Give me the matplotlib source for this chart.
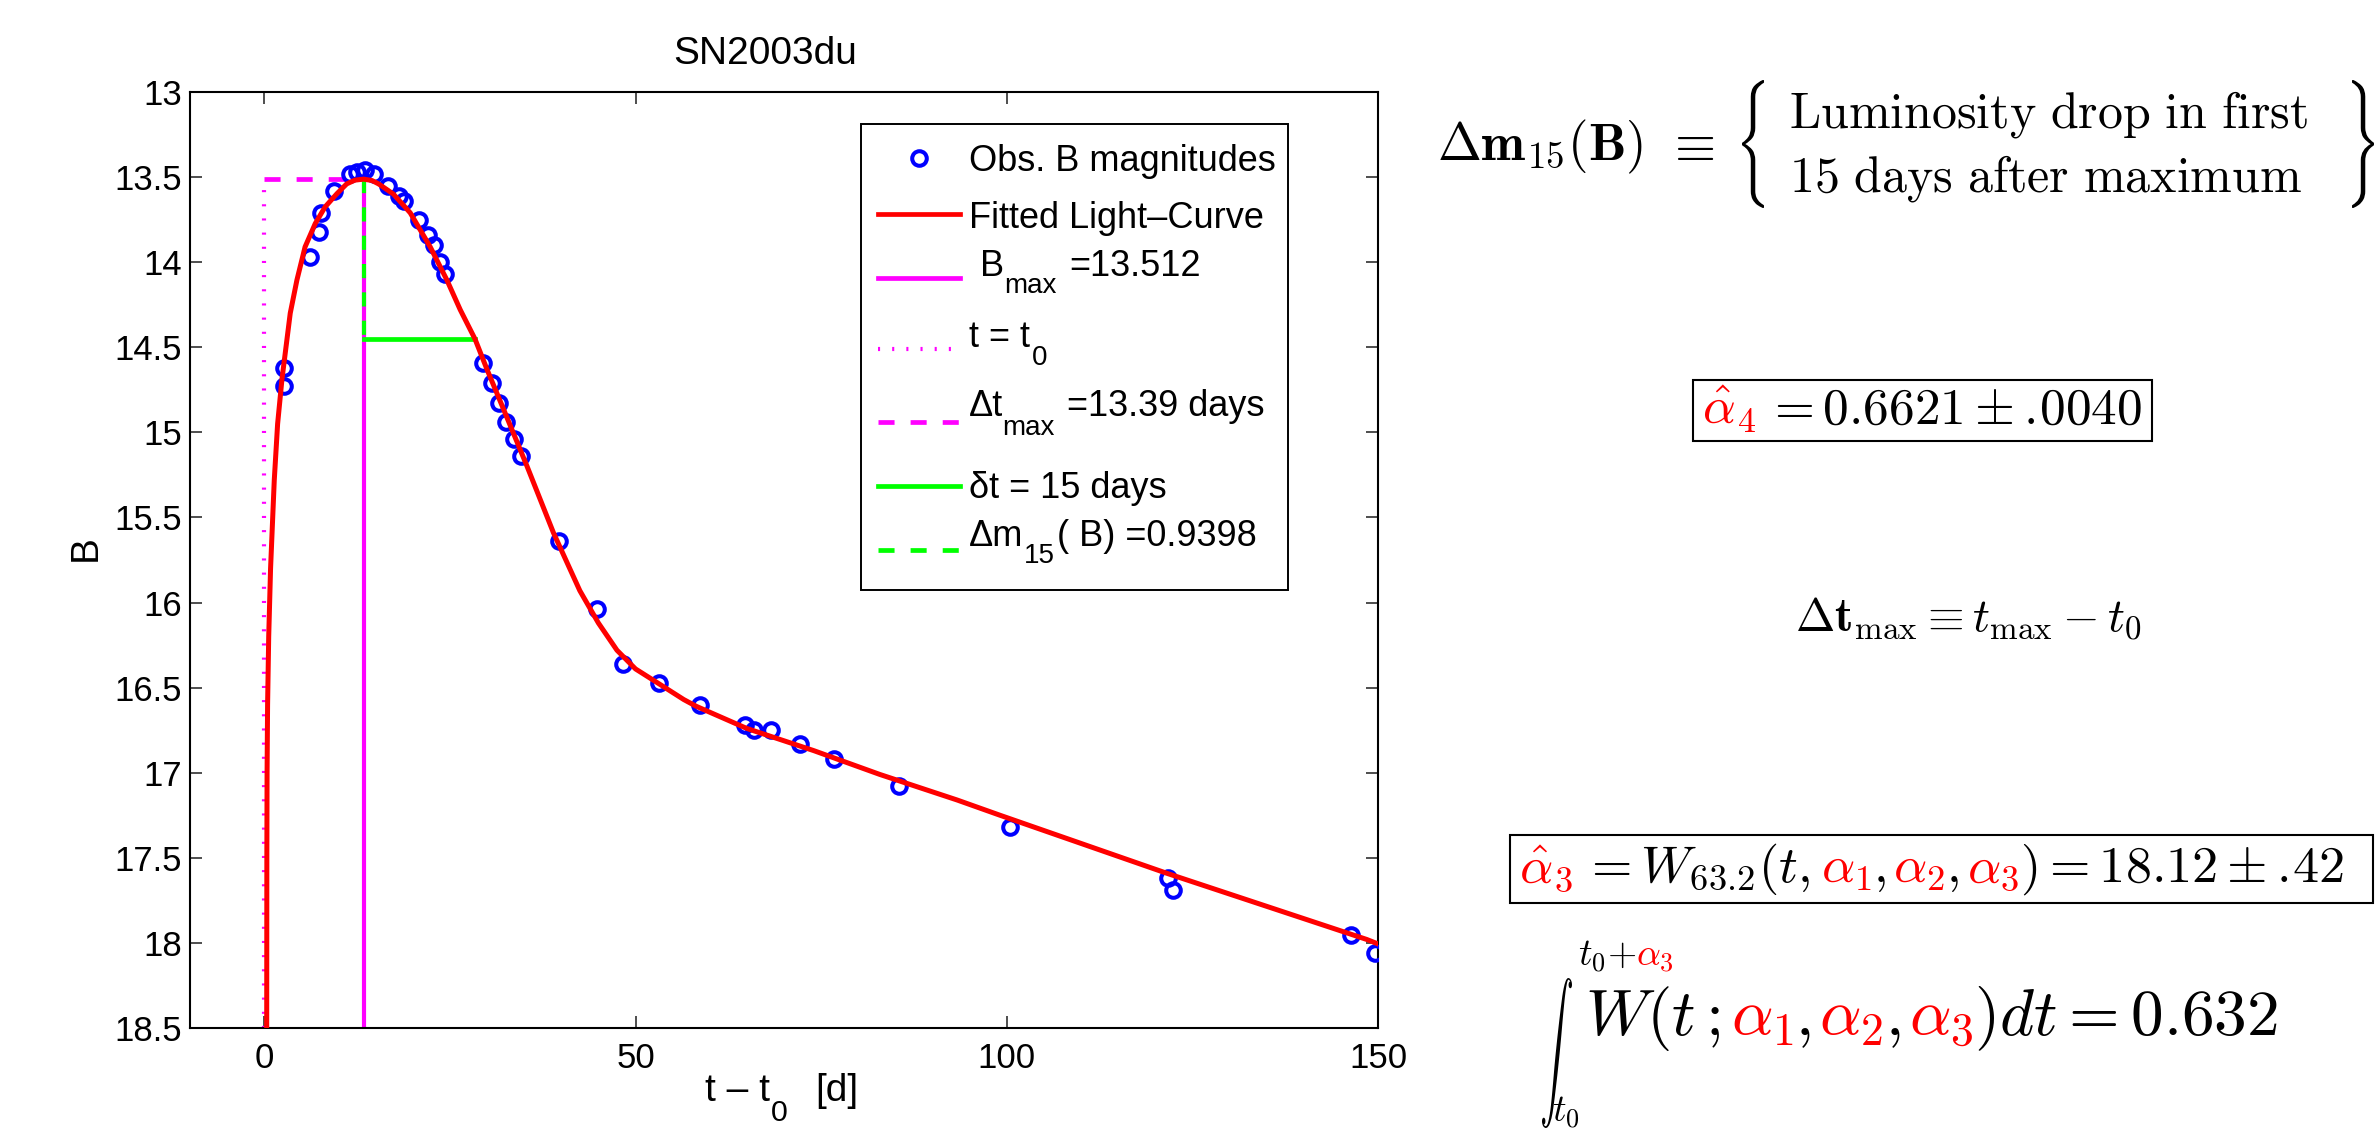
import numpy as np
import matplotlib
matplotlib.use("Agg")
import matplotlib.pyplot as plt
from matplotlib.patches import Rectangle, PathPatch
from matplotlib.lines import Line2D
from matplotlib.textpath import TextPath
from matplotlib.transforms import Bbox, IdentityTransform, Affine2D

# ---------------------------------------------------------------- data
t_obs = [2.6, 2.7, 6.2, 7.4, 7.7, 9.45, 11.5, 12.5, 13.6, 14.8,
         16.7, 18.1, 18.85, 20.8, 22.0, 22.8, 23.7, 24.35,
         29.4, 30.7, 31.6, 32.6, 33.6, 34.6, 39.7, 44.75, 48.25, 53.15,
         58.65, 64.7, 66.0, 68.2, 72.2, 76.7, 85.5, 100.5, 121.7, 122.4,
         146.4, 149.6]
B_obs = [14.73, 14.62, 13.97, 13.82, 13.71, 13.58, 13.48, 13.47, 13.46, 13.48,
         13.55, 13.61, 13.64, 13.75, 13.84, 13.90, 14.00, 14.07,
         14.59, 14.71, 14.83, 14.94, 15.04, 15.14, 15.64, 16.04, 16.36, 16.47,
         16.60, 16.72, 16.75, 16.75, 16.83, 16.92, 17.08, 17.32, 17.62, 17.69,
         17.955, 18.06]

t_fit = [0.33, 0.35, 0.38, 0.45, 0.60, 0.85, 1.35, 1.80, 2.38, 3.5, 4.4,
         5.5, 6.87, 8.2, 9.8, 11.1, 12.2, 13.39, 14.5, 15.4, 17.4, 19.66,
         22.35, 24.6, 26.4, 28.39, 30.0, 32.0, 35.4, 38.95, 42.5, 45.0,
         47.5, 50.0, 52.9, 56.5, 58.2, 65.0, 74.0, 82.9, 93.3, 99.1,
         121.5, 148.5, 150.0]
B_fit = [18.5, 17.5, 17.0, 16.6, 16.2, 15.8, 15.28, 14.95, 14.69, 14.30, 14.105,
         13.91, 13.773, 13.675, 13.597, 13.54, 13.518, 13.512, 13.52, 13.54, 13.60, 13.71,
         13.91, 14.105, 14.28, 14.452, 14.63, 14.84, 15.20, 15.59, 15.93, 16.12,
         16.28, 16.39, 16.47, 16.57, 16.61, 16.74, 16.87, 17.01, 17.16, 17.25,
         17.59, 17.98, 18.006]

t0 = 0.0
B_max = 13.512
dt_max = 13.39
delta_t = 15.0
dm15 = 0.9398

x_lim = (-10, 150)
y_lim = (18.5, 13.0)
x_ticks = [0, 50, 100, 150]
y_ticks = [13, 13.5, 14, 14.5, 15, 15.5, 16, 16.5, 17, 17.5, 18, 18.5]
y_ticklabels = ["13", "13.5", "14", "14.5", "15", "15.5", "16", "16.5",
                "17", "17.5", "18", "18.5"]

# ---------------------------------------------------------------- style
W, H = 2375, 1133
SANS = "Liberation Sans"
plt.rcParams["font.family"] = SANS
plt.rcParams["mathtext.fontset"] = "cm"

RED, MAG, GRN, BLU = "#ff0000", "#ff00ff", "#00ff00", "#0000ff"

fig = plt.figure(figsize=(W / 100, H / 100), dpi=100)
R = fig.canvas.get_renderer()


def fx(x):
    return x / W


def fy(y):
    return 1 - y / H


ax = fig.add_axes([fx(190), fy(1028), 1188 / W, 936 / H])

# ---------------------------------------------------------------- plot
ax.plot([t0, t0], [y_lim[0], B_max], color=MAG, lw=3, dashes=(0.5, 2.9),
        dash_capstyle="butt", zorder=2)
ax.plot([t0, dt_max], [B_max, B_max], color=MAG, lw=3.4, dashes=(3.4, 3.4), zorder=2)
ax.plot([dt_max, dt_max], [y_lim[0], B_max], color=MAG, lw=3.0, zorder=2)
ax.plot([dt_max, dt_max], [B_max, B_max + dm15], color=GRN, lw=3.0,
        dashes=(3.4, 3.4), zorder=3)
ax.plot([dt_max, dt_max + delta_t], [B_max + dm15, B_max + dm15], color=GRN,
        lw=3.4, zorder=3)
ax.plot(t_obs, B_obs, linestyle="none", marker="o", ms=10.5, mfc="none",
        mec=BLU, mew=2.9, zorder=4)
ax.plot(t_fit, B_fit, color=RED, lw=3.6, zorder=5)

ax.set_xlim(*x_lim)
ax.set_ylim(*y_lim)
ax.set_xticks(x_ticks)
ax.set_yticks(y_ticks)
ax.set_yticklabels(y_ticklabels)
ax.tick_params(direction="in", length=8.6, width=1.3, color="#404040",
               top=True, right=True, labelsize=25)
ax.tick_params(axis="x", pad=10)
ax.tick_params(axis="y", pad=6)
for s in ax.spines.values():
    s.set_linewidth(1.5)

fig.text(fx(765), fy(64), "SN2003du", fontsize=28, ha="center", va="baseline")
fig.text(fx(86), fy(548), "B", fontsize=28, rotation=90, ha="center", va="center")


def place(pieces, x, y, size, family=None, zorder=8):
    """Lay out text runs left to right; each run is
    (text, colour, gap_before_px, baseline_shift_px, size_scale)."""
    cur = x
    arts = []
    for s, col, gap, dy, sc in pieces:
        cur += gap
        kw = dict(color=col, fontsize=size * sc, ha="left", va="baseline",
                  zorder=zorder)
        if family:
            kw["family"] = family
        t = fig.text(fx(cur), fy(y + dy), s, **kw)
        cur = t.get_window_extent(renderer=R).x1
        arts.append(t)
    return arts


def glyph_in_box(s, x0, x1, y0, y1, color="black"):
    """Draw a math glyph stretched to fill the pixel box (x0..x1, y0..y1),
    y measured from the top of the figure."""
    tp = TextPath((0, 0), s, size=40)
    ext = tp.get_extents()
    tr = (Affine2D().translate(-ext.x0, -ext.y0)
          .scale((x1 - x0) / ext.width, (y1 - y0) / ext.height)
          .translate(x0, H - y1))
    fig.add_artist(PathPatch(tp, transform=tr, facecolor=color,
                             edgecolor="none", lw=0, zorder=8))


# x label: t - t0 [d]
place([("t \u2013 t", "black", 0, 0, 1.0), ("0", "black", 1, 20, 0.78),
       ("[d]", "black", 27, 0, 1.0)], 705, 1101, 28, SANS)

# ---------------------------------------------------------------- legend
fig.add_artist(Rectangle((fx(861), fy(590)), (1288 - 861) / W, (590 - 124) / H,
                         transform=fig.transFigure, facecolor="white",
                         edgecolor="black", lw=1.4, zorder=6))


def leg_line(y, **kw):
    fig.add_artist(Line2D([fx(878), fx(960)], [fy(y), fy(y)],
                          transform=fig.transFigure, zorder=7, **kw))


fig.add_artist(Line2D([fx(919)], [fy(158)], transform=fig.transFigure, zorder=7,
                      marker="o", ms=10.5, mfc="none", mec=BLU, mew=2.9,
                      linestyle="none"))
leg_line(214, color=RED, lw=3.4)
leg_line(278, color=MAG, lw=3.4)
leg_line(349, color=MAG, lw=3, dashes=(0.5, 2.9))
leg_line(422, color=MAG, lw=3.4, dashes=(3.4, 3.4))
leg_line(486, color=GRN, lw=3.4)
leg_line(550, color=GRN, lw=3.4, dashes=(3.4, 3.4))

LF = 26
fig.text(fx(969), fy(171), "Obs. B magnitudes", fontsize=LF, va="baseline", zorder=8)
fig.text(fx(969), fy(228), "Fitted Light\u2013Curve", fontsize=LF, va="baseline", zorder=8)
fig.text(fx(980), fy(276), "B", fontsize=LF, va="baseline", zorder=8)
fig.text(fx(1004), fy(293), "max", fontsize=20, va="baseline", zorder=8)
fig.text(fx(1069), fy(276), "=13.512", fontsize=LF, va="baseline", zorder=8)
fig.text(fx(969), fy(347), "t = t", fontsize=LF, va="baseline", zorder=8)
fig.text(fx(1032), fy(365), "0", fontsize=20, va="baseline", zorder=8)
fig.text(fx(969), fy(416), "\u0394t", fontsize=LF, va="baseline", zorder=8)
fig.text(fx(1002), fy(435), "max", fontsize=20, va="baseline", zorder=8)
fig.text(fx(1067), fy(416), "=13.39 days", fontsize=LF, va="baseline", zorder=8)
fig.text(fx(969), fy(498), "\u03b4t = 15 days", fontsize=LF, va="baseline", zorder=8)
fig.text(fx(969), fy(546), "\u0394m", fontsize=LF, va="baseline", zorder=8)
fig.text(fx(1024), fy(563), "15", fontsize=20, va="baseline", zorder=8)
fig.text(fx(1057), fy(546), "( B) =0.9398", fontsize=LF, va="baseline", zorder=8)

# ---------------------------------------------------------------- equations


def box_around(arts, padl, padr, padt, padb):
    bb = Bbox.union([a.get_window_extent(renderer=R) for a in arts])
    fig.add_artist(Rectangle((bb.x0 - padl, bb.y0 - padb),
                             bb.width + padl + padr, bb.height + padt + padb,
                             transform=IdentityTransform(), fill=False,
                             edgecolor="black", lw=1.5, zorder=9))


# Delta m15(B) definition
fig.text(fx(1437), fy(160), r"$\mathbf{\Delta m}_{\mathbf{15}}(\mathbf{B})$",
         fontsize=38, ha="left", va="baseline")
fig.text(fx(1665), fy(160), r"$\equiv$", fontsize=38, ha="left", va="baseline")
glyph_in_box(r"$\{$", 1742, 1764, 80, 208)
fig.text(fx(1789), fy(128), r"$\mathrm{Luminosity\ drop\ in\ first}$",
         fontsize=36, ha="left", va="baseline")
fig.text(fx(1789), fy(191), r"$\mathrm{15\ days\ after\ maximum}$",
         fontsize=36, ha="left", va="baseline")
glyph_in_box(r"$\}$", 2352, 2374, 80, 208)

# alpha_4 estimate
a4 = place([(r"$\hat{\alpha}_4$", RED, 0, 0, 1.0),
            (r"$=0.6621\pm.\!0040$", "black", 9, 0, 1.0)], 1702, 424, 37)
box_around(a4, 9, 10, 4, 6)

# Delta t_max definition
fig.text(fx(1795), fy(630),
         r"$\mathbf{\Delta t}_{\mathrm{max}} \equiv t_{\mathrm{max}} - t_0$",
         fontsize=34, ha="left", va="baseline")

# alpha_3 estimate
a3 = place([(r"$\hat{\alpha}_3$", RED, 0, 0, 1.0),
            (r"$=W_{63.2}(t,$", "black", 9, 0, 1.0),
            (r"$\alpha_1$", RED, 11, 0, 1.0),
            (r"$,$", "black", 1, 0, 1.0),
            (r"$\alpha_2$", RED, 8, 0, 1.0),
            (r"$,$", "black", 1, 0, 1.0),
            (r"$\alpha_3$", RED, 8, 0, 1.0),
            (r"$)=18.12\pm.\!42$", "black", 1, 0, 1.0)], 1519, 882, 37.5)
box_around(a3, 9, 30, 6, 6)

# integral definition of alpha_3
glyph_in_box(r"$\int$", 1542, 1572, 978, 1128)
place([(r"$t_0{+}$", "black", 0, 0, 1.0), (r"$\alpha_3$", RED, 0, 0, 1.0)],
      1578, 966, 27)
place([(r"$t_0$", "black", 0, 0, 1.0)], 1552, 1122, 27)
place([(r"$W(t\,;$", "black", 0, 0, 1.0),
       (r"$\alpha_1$", RED, 11, 0, 1.0),
       (r"$,$", "black", 1, 0, 1.0),
       (r"$\alpha_2$", RED, 9, 0, 1.0),
       (r"$,$", "black", 1, 0, 1.0),
       (r"$\alpha_3$", RED, 9, 0, 1.0),
       (r"$)dt=0.632$", "black", 1, 0, 1.0)], 1585, 1035, 47)

fig.savefig("out.png", dpi=100)
